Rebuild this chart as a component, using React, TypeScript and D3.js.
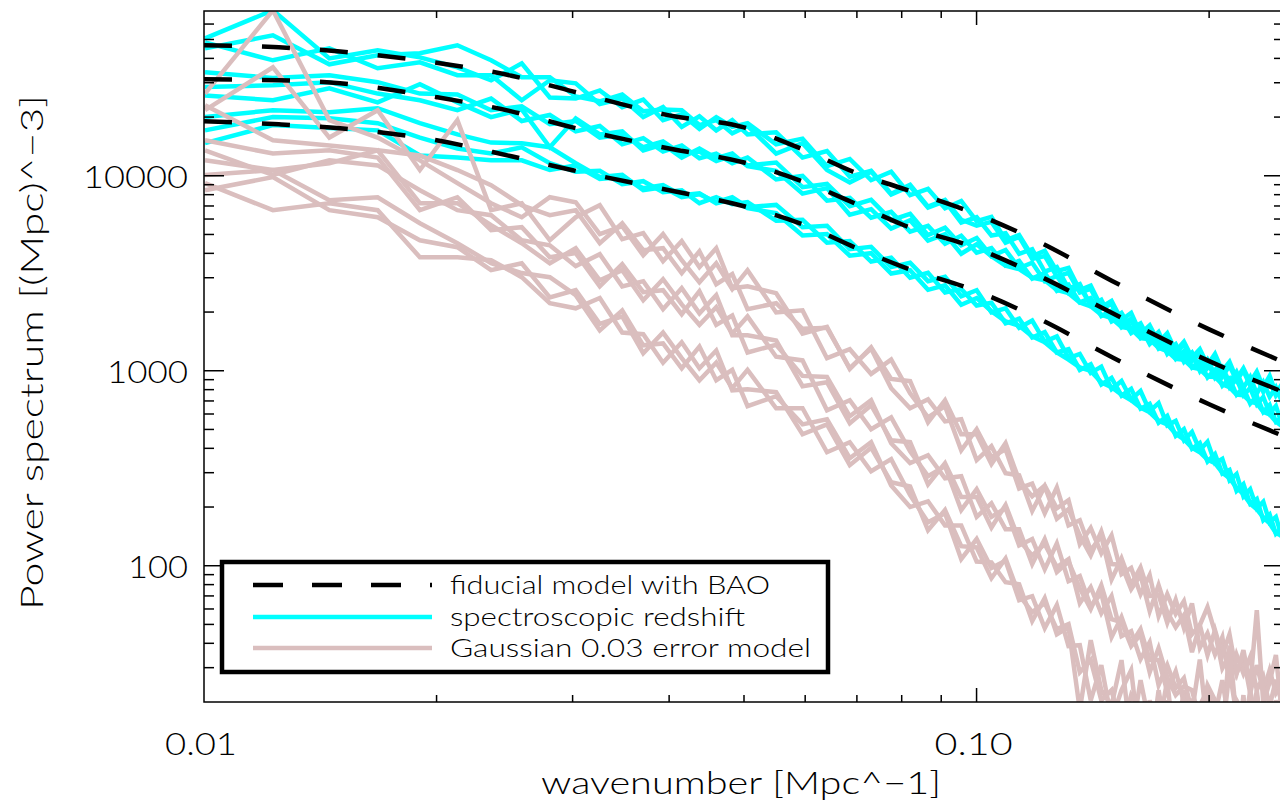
import React, { useEffect, useRef } from 'react';
import * as d3 from 'd3';

// wavenumber bins of the measured spectra
const kGrid = [0.01003, 0.01228, 0.01453, 0.01678, 0.01903, 0.02128, 0.02353, 0.02578, 0.02803, 0.03028, 0.03253, 0.03478, 0.03703, 0.03928, 0.04153, 0.04378, 0.04603, 0.04828, 0.05053, 0.05503, 0.05953, 0.06403, 0.06853, 0.07303, 0.07753, 0.08203, 0.08653, 0.09103, 0.09553, 0.10003, 0.10453, 0.10903, 0.11353, 0.11803, 0.12253, 0.12703, 0.13153, 0.13603, 0.14053, 0.14503, 0.14953, 0.15403, 0.15853, 0.16303, 0.16753, 0.17203, 0.17653, 0.18103, 0.18553, 0.19003, 0.19453, 0.19903, 0.20353, 0.20803, 0.21253, 0.21703, 0.22153, 0.22603, 0.23053, 0.23503, 0.23953, 0.24403, 0.24853];

// fiducial model with BAO, three biases
const modelK = [0.01, 0.0125, 0.015, 0.02, 0.025, 0.03, 0.04, 0.05, 0.06, 0.07, 0.08, 0.1, 0.12, 0.15, 0.2, 0.25];
const modelUpper = [46700, 45600, 43400, 38000, 32600, 27100, 20400, 17700, 13500, 10300, 8630, 6350, 4620, 2880, 1630, 1105];
const modelMiddle = [31250, 30900, 29800, 25300, 21400, 17700, 13800, 11700, 9250, 7140, 5640, 4250, 3090, 1970, 1120, 776];
const modelLower = [19050, 18370, 17520, 15210, 12590, 10680, 8430, 6980, 5570, 4250, 3430, 2560, 1860, 1170, 673, 461];

// spectroscopic redshift realisations
const specUpper1 = [50700, 70600, 40000, 44000, 40500, 36000, 30900, 37700, 25200, 24900, 27400, 22500, 24600, 19300, 20700, 17400, 20000, 17800, 18600, 14500, 15500, 11200, 12200, 9490, 10500, 7950, 8560, 6820, 7430, 5850, 6160, 4670, 4970, 3870, 4120, 3240, 3370, 2590, 2730, 2120, 2280, 1820, 1980, 1550, 1710, 1400, 1560, 1260, 1410, 1170, 1290, 1070, 1220, 998, 1110, 908, 1030, 873, 990, 823, 941, 766, 856];
const specUpper2 = [48300, 39100, 45000, 35600, 38200, 32800, 32800, 24400, 30900, 29800, 23300, 24900, 20000, 22500, 17800, 20200, 17100, 19300, 16300, 16700, 12400, 13400, 9890, 10600, 8090, 8990, 6940, 7520, 5950, 5550, 5800, 4540, 4860, 3750, 3880, 3040, 3180, 2520, 2630, 2080, 2200, 1730, 1850, 1480, 1650, 1350, 1470, 1220, 1370, 1120, 1230, 1030, 1130, 936, 1060, 893, 1000, 838, 930, 780, 887, 745, 816];
const specUpper3 = [45000, 52500, 37300, 41500, 42500, 46700, 39100, 32000, 32000, 25500, 24100, 26100, 21400, 21900, 21700, 18200, 19300, 16500, 18000, 13000, 14700, 10700, 9250, 10500, 8010, 8840, 6860, 7400, 5750, 6130, 4940, 5080, 3980, 4200, 3220, 3400, 2640, 2780, 2160, 2270, 1790, 1900, 1560, 1680, 1370, 1520, 1220, 1350, 1110, 1230, 998, 1140, 953, 1040, 872, 986, 819, 930, 763, 873, 736, 823, 693];
const specMiddle1 = [34000, 31700, 32800, 30200, 26400, 26100, 21700, 22700, 18400, 19100, 15700, 16300, 14000, 15000, 12900, 13300, 11900, 12700, 11300, 11700, 8740, 9080, 6980, 7520, 5920, 6380, 4960, 5410, 4400, 4800, 3870, 4160, 3360, 3580, 2880, 3060, 2500, 2690, 2170, 2310, 1830, 1980, 1640, 1750, 1430, 1580, 1270, 1370, 1140, 1240, 1030, 1110, 919, 1000, 823, 908, 749, 816, 673, 734, 605, 659, 531];
const specMiddle2 = [28500, 29100, 30200, 26400, 24400, 21700, 24900, 19100, 20500, 16900, 18000, 14500, 15600, 13300, 14300, 12300, 13000, 11600, 12400, 9570, 10000, 7450, 7700, 6100, 6530, 5170, 5530, 4480, 4920, 4030, 4260, 3460, 3660, 2970, 3180, 2570, 2760, 2240, 2360, 1910, 2030, 1670, 1810, 1480, 1580, 1300, 1380, 1150, 1260, 1040, 1120, 924, 1010, 838, 908, 754, 816, 678, 743, 616, 668, 548, 579];
const specMiddle3 = [25800, 24400, 28100, 23800, 29500, 23800, 20000, 21900, 14000, 19700, 16300, 16900, 13500, 14500, 12400, 13800, 12300, 13000, 11200, 10600, 8100, 8640, 6320, 6740, 5360, 5920, 4650, 5020, 3980, 4450, 3870, 3460, 3320, 3000, 2910, 2600, 2500, 2240, 2140, 1940, 1860, 1680, 1640, 1470, 1450, 1310, 1260, 1150, 1140, 1040, 1020, 934, 930, 852, 823, 754, 749, 693, 681, 616, 598, 548, 519];
const specLower1 = [20000, 21700, 21200, 22200, 18600, 16300, 14800, 14700, 14000, 11600, 9850, 10100, 8430, 8740, 7760, 8040, 7320, 7760, 6900, 7090, 5450, 5540, 4200, 4320, 3400, 3580, 2880, 3030, 2410, 2590, 1990, 2090, 1660, 1810, 1410, 1500, 1160, 1220, 975, 1050, 804, 886, 714, 787, 620, 683, 525, 553, 440, 485, 391, 432, 336, 353, 274, 295, 227, 247, 197, 213, 167, 178, 140];
const specLower2 = [17100, 20000, 19700, 18600, 15700, 13800, 13000, 14000, 11600, 10500, 10600, 9050, 9380, 8230, 8430, 7230, 7760, 7140, 7320, 5880, 5940, 4540, 4630, 3630, 3800, 3000, 3180, 2520, 2630, 2160, 2230, 1750, 1850, 1480, 1580, 1240, 1290, 1010, 1080, 849, 919, 745, 807, 639, 676, 541, 587, 464, 502, 398, 426, 342, 374, 297, 310, 242, 262, 208, 220, 171, 183, 146, 156];
const specLower3 = [14700, 18200, 17600, 17100, 12700, 12400, 12000, 12000, 10700, 11300, 9620, 9850, 8640, 8950, 7950, 8140, 7230, 7580, 6820, 6430, 4940, 5020, 3890, 4010, 3150, 3280, 2600, 2740, 2180, 2360, 2020, 1790, 1700, 1500, 1400, 1240, 1140, 1040, 998, 872, 823, 754, 706, 647, 612, 554, 531, 475, 445, 403, 382, 350, 336, 300, 281, 251, 233, 208, 195, 177, 165, 147, 142];

// Gaussian 0.03 photo-z error realisations
const photoUpper1 = [26400, 70600, 19300, 15700, 12000, 9160, 7230, 6130, 7760, 7320, 5020, 5520, 3910, 5020, 3690, 2840, 3560, 2620, 3280, 1990, 2040, 1160, 1290, 963, 1140, 766, 577, 658, 391, 501, 360, 396, 249, 264, 186, 252, 161, 171, 120, 142, 85, 109, 80, 98, 70, 71, 51, 67, 48, 64, 38, 45, 35, 43, 25, 35, 28, 34, 23, 27, 19, 26, 19.5];
const photoUpper2 = [21700, 36000, 15700, 21700, 10700, 19300, 6660, 7230, 4670, 6130, 7060, 4730, 5080, 3650, 4620, 3400, 4250, 2650, 2710, 2500, 1550, 1680, 1020, 1320, 908, 884, 544, 706, 472, 472, 332, 425, 274, 227, 258, 197, 217, 129, 156, 116, 143, 90.5, 97.4, 71.4, 89.5, 55.2, 71.4, 56.5, 65.8, 44.5, 49.6, 34.8, 46.7, 34.8, 44.5, 28.1, 33.6, 22.2, 30.9, 22.7, 29.1, 22.2, 25];
const photoUpper3 = [23000, 15200, 14300, 13500, 12700, 10700, 8950, 7060, 6280, 6660, 4510, 5710, 4150, 4250, 3170, 4100, 2780, 3130, 2070, 2220, 1640, 1660, 1030, 1300, 813, 642, 714, 550, 564, 348, 410, 298, 291, 191, 255, 174, 195, 143, 113, 150, 102, 101, 75.8, 89.5, 58.5, 79.5, 57.8, 48.4, 55.8, 36, 49.6, 61.3, 45.6, 29.8, 34.8, 27.8, 36.9, 24.1, 59.2, 19.7, 25.3, 34.8, 17.4];
const photoMiddle1 = [13500, 10100, 12000, 11300, 8430, 6660, 6280, 4670, 4400, 3440, 3960, 2710, 2880, 2070, 2650, 1970, 2440, 1520, 1520, 1430, 833, 873, 538, 666, 440, 430, 261, 336, 225, 225, 157, 205, 135, 113, 129, 98.5, 108, 64.3, 77.6, 57.1, 69.8, 43.5, 46.2, 33.2, 40.5, 24.4, 30.9, 23.6, 26.5, 17.7, 33, 14.4, 20.4, 12.8, 39, 16.2, 18.2, 13.6, 23, 11.4, 20.4, 10.2, 26];
const photoMiddle2 = [15200, 13000, 13500, 12400, 6660, 7760, 5260, 5450, 3820, 4010, 2710, 3520, 2530, 2590, 1950, 2560, 1720, 1920, 1240, 1360, 941, 930, 584, 706, 425, 336, 369, 281, 288, 178, 209, 154, 154, 102, 137, 92.7, 105, 76.7, 59.9, 79.5, 53.2, 51.4, 38.7, 44.5, 28.4, 37.8, 26.8, 21.7, 24.1, 23, 16.2, 24.4, 20.4, 13.6, 29, 17.1, 12.8, 23, 15.2, 19.2, 12.1, 20.4, 14.4];
const photoMiddle3 = [12000, 10700, 11600, 13500, 7230, 7230, 5580, 4510, 3560, 4250, 2910, 3280, 2300, 2950, 2190, 1720, 2120, 1550, 1900, 1180, 1130, 627, 706, 501, 577, 386, 288, 324, 193, 247, 178, 197, 127, 137, 96, 130, 83.3, 88.4, 62, 72.3, 43, 54.5, 39.6, 47.3, 32.8, 32.8, 22.7, 28.8, 19.9, 20.4, 19.2, 23, 17.1, 25.9, 15.2, 20.4, 17.7, 16.2, 21.7, 12.8, 18.2, 15.2, 17.1];
const photoLower1 = [10100, 10700, 7490, 7760, 5710, 4510, 3560, 3170, 3020, 2440, 1610, 2040, 1350, 1380, 1030, 1330, 894, 1010, 658, 740, 531, 564, 356, 430, 258, 200, 214, 161, 161, 105, 104, 82.3, 80.4, 52, 68.2, 44.5, 48.4, 18.2, 41.5, 23, 19.2, 32.8, 12.8, 25.9, 15.2, 10.2, 20.4, 12.1, 23, 9.1, 13.6, 20.4, 10.2, 16.2, 8.1, 12.8, 18.2, 9.1, 12.1, 7.2, 11.4, 16.2, 8.1];
const photoLower2 = [8430, 9850, 6660, 6130, 4670, 4300, 3280, 3560, 2380, 2590, 1740, 1900, 1230, 1570, 1160, 894, 1100, 813, 1010, 642, 642, 382, 430, 305, 352, 230, 167, 186, 108, 137, 97.4, 106, 66.6, 69.8, 47.9, 62.8, 38.7, 39.1, 20.4, 30.9, 16.2, 23, 29.1, 11.4, 20.4, 14.4, 25.9, 10.2, 16.2, 19.2, 11.4, 23, 9.1, 14.4, 17.1, 10.2, 21.7, 8.6, 13.6, 18.2, 9.1, 12.8, 15.2];
const photoLower3 = [9160, 6660, 7230, 6660, 3820, 3820, 3690, 3020, 2220, 2090, 2360, 1570, 1540, 1100, 1400, 1030, 1270, 794, 804, 776, 472, 531, 328, 403, 268, 255, 152, 193, 126, 124, 86.3, 109, 70.6, 57.8, 64.3, 47.3, 50.2, 28.4, 32.8, 20.4, 23, 14.4, 21.7, 18.2, 10.2, 23, 12.8, 16.2, 20.4, 9.6, 15.2, 12.8, 19.2, 10.2, 13.6, 20.4, 8.1, 12.8, 10.2, 16.2, 7.2, 12.1, 9.6];

// axes
const xTickValues = [0.01, 0.1];
const xTickLabels = ['0.01', '0.10'];
const yTickValues = [100, 1000, 10000];
const yTickLabels = ['100', '1000', '10000'];
const legendLabels = ['fiducial model with BAO', 'spectroscopic redshift', 'Gaussian 0.03 error model'];

const CYAN = '#00ffff';
const PINK = '#dabebe';
const FONT = 'Lato, "DejaVu Sans", sans-serif';

const App = () => {
  const svgRef = useRef<SVGSVGElement | null>(null);

  useEffect(() => {
    const width = 1280;
    const height = 809;
    const m = { left: 204, right: 1284, top: 11, bottom: 702 };

    const x = d3.scaleLog().domain([0.01, 0.25]).range([m.left, m.right]);
    const y = d3.scaleLog().domain([20, 70000]).range([m.bottom, m.top]);

    const svg = d3.select(svgRef.current)
      .attr('width', width)
      .attr('height', height)
      .attr('viewBox', [0, 0, width, height].join(' '));
    svg.selectAll('*').remove();

    svg.append('rect').attr('width', width).attr('height', height).attr('fill', 'white');

    svg.append('clipPath').attr('id', 'plotclip')
      .append('rect')
      .attr('x', m.left).attr('y', m.top)
      .attr('width', m.right - m.left).attr('height', m.bottom - m.top);

    const measured = d3.line<number>()
      .x((_, i) => x(kGrid[i]))
      .y(d => y(d));

    const model = d3.line<number>()
      .x((_, i) => x(modelK[i]))
      .y(d => y(d))
      .curve(d3.curveMonotoneX);

    const plot = svg.append('g').attr('clip-path', 'url(#plotclip)');

    const spec = [specUpper1, specUpper2, specUpper3, specMiddle1, specMiddle2, specMiddle3, specLower1, specLower2, specLower3];
    const photo = [photoUpper1, photoUpper2, photoUpper3, photoMiddle1, photoMiddle2, photoMiddle3, photoLower1, photoLower2, photoLower3];

    plot.append('g')
      .selectAll('path')
      .data(spec)
      .join('path')
      .attr('d', d => measured(d))
      .attr('fill', 'none')
      .attr('stroke', CYAN)
      .attr('stroke-width', 4.5);

    plot.append('g')
      .selectAll('path')
      .data(photo)
      .join('path')
      .attr('d', d => measured(d))
      .attr('fill', 'none')
      .attr('stroke', PINK)
      .attr('stroke-width', 4.5);

    plot.append('g')
      .selectAll('path')
      .data([modelUpper, modelMiddle, modelLower])
      .join('path')
      .attr('d', d => model(d))
      .attr('fill', 'none')
      .attr('stroke', 'black')
      .attr('stroke-width', 4.5)
      .attr('stroke-dasharray', '28 30');

    // frame and ticks
    const axes = svg.append('g').attr('stroke', 'black').attr('stroke-width', 1.5);
    axes.append('rect')
      .attr('x', m.left).attr('y', m.top)
      .attr('width', m.right - m.left).attr('height', m.bottom - m.top)
      .attr('fill', 'none');

    const xAll = x.ticks().filter(t => t > 0.0101 && t < 0.25);
    const yAll = y.ticks().filter(t => t > 20.5 && t < 69000);
    const isMajor = (t: number, list: number[]) => list.some(v => Math.abs(v - t) / v < 1e-6);

    xAll.forEach(t => {
      const len = isMajor(t, xTickValues) ? 14 : 7;
      axes.append('line').attr('x1', x(t)).attr('x2', x(t)).attr('y1', m.bottom).attr('y2', m.bottom - len);
      axes.append('line').attr('x1', x(t)).attr('x2', x(t)).attr('y1', m.top).attr('y2', m.top + len);
    });
    yAll.forEach(t => {
      const len = isMajor(t, yTickValues) ? 20 : 10;
      axes.append('line').attr('y1', y(t)).attr('y2', y(t)).attr('x1', m.left).attr('x2', m.left + len);
      axes.append('line').attr('y1', y(t)).attr('y2', y(t)).attr('x1', m.right).attr('x2', m.right - len);
    });

    const text = svg.append('g')
      .attr('font-family', FONT)
      .attr('font-weight', 300)
      .attr('fill', 'black');

    const xLabelWidths = [72, 78];
    xTickValues.forEach((v, i) => {
      text.append('text')
        .attr('x', x(v) - 3 - xLabelWidths[i] / 2)
        .attr('y', 755)
        .attr('font-size', 32)
        .attr('textLength', xLabelWidths[i])
        .attr('lengthAdjust', 'spacingAndGlyphs')
        .text(xTickLabels[i]);
    });

    const yLabelWidths = [60, 81, 105];
    yTickValues.forEach((v, i) => {
      text.append('text')
        .attr('x', 188 - yLabelWidths[i])
        .attr('y', y(v) + 12)
        .attr('font-size', 32)
        .attr('textLength', yLabelWidths[i])
        .attr('lengthAdjust', 'spacingAndGlyphs')
        .text(yTickLabels[i]);
    });

    text.append('text')
      .attr('x', 541)
      .attr('y', 794)
      .attr('font-size', 31)
      .attr('textLength', 400)
      .attr('lengthAdjust', 'spacingAndGlyphs')
      .text('wavenumber [Mpc^\u22121]');

    text.append('text')
      .attr('transform', 'translate(43,610) rotate(-90)')
      .attr('x', 0)
      .attr('y', 0)
      .attr('font-size', 31)
      .attr('textLength', 515)
      .attr('lengthAdjust', 'spacingAndGlyphs')
      .text('Power spectrum [(Mpc)^\u22123]');

    // legend
    const legend = svg.append('g');
    legend.append('rect')
      .attr('x', 222).attr('y', 562)
      .attr('width', 606).attr('height', 110)
      .attr('fill', 'white')
      .attr('stroke', 'black')
      .attr('stroke-width', 4.5);

    const rows = [
      { y: 585, stroke: 'black', dash: '30 29', w: 4.5 },
      { y: 617, stroke: CYAN, dash: null, w: 4.5 },
      { y: 648, stroke: PINK, dash: null, w: 4.5 },
    ];
    const legendWidths = [320, 295, 361];
    rows.forEach((r, i) => {
      legend.append('line')
        .attr('x1', 253).attr('x2', 432)
        .attr('y1', r.y).attr('y2', r.y)
        .attr('stroke', r.stroke)
        .attr('stroke-width', r.w)
        .attr('stroke-dasharray', r.dash);
      legend.append('text')
        .attr('x', 450)
        .attr('y', r.y + 9)
        .attr('font-family', FONT)
        .attr('font-weight', 300)
        .attr('font-size', 25)
        .attr('textLength', legendWidths[i])
        .attr('lengthAdjust', 'spacingAndGlyphs')
        .text(legendLabels[i]);
    });
  }, []);

  return (
    <svg ref={svgRef} style={{ position: 'absolute', left: 0, top: 0, display: 'block' }} />
  );
};

export default App;
